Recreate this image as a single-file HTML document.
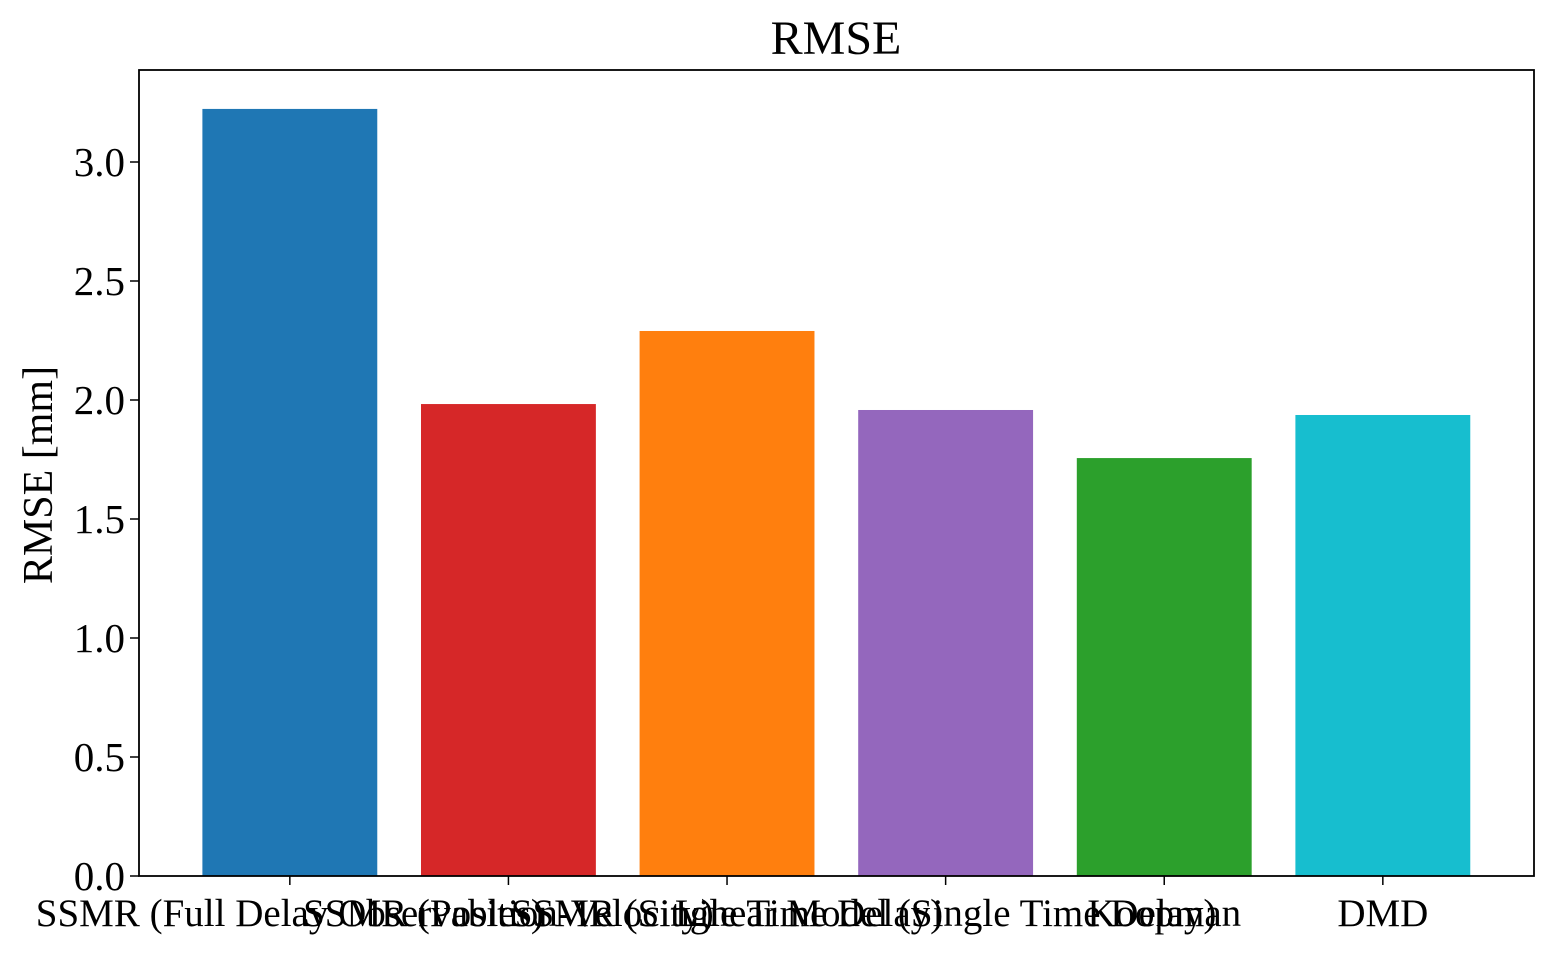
<!DOCTYPE html>
<html><head><meta charset="utf-8"><style>
body{margin:0;background:#fff}
text{font-family:"Liberation Serif","DejaVu Serif",serif;fill:#000}
</style></head><body>
<svg id="chart" width="1553" height="953" xmlns="http://www.w3.org/2000/svg">
<text x="836" y="54" font-size="48" text-anchor="middle">RMSE</text>
<text transform="translate(52,475) rotate(-90)" font-size="42" text-anchor="middle">RMSE [mm]</text>
<g id="bars"></g><g id="yticks"></g><g id="xticks"></g>
<rect x="139" y="70" width="1395" height="806" fill="none" stroke="#000" stroke-width="1.8"/>
</svg>
<script>
const categories=["SSMR (Full Delay Observables)","SSMR (Position-Velocity)","SSMR (Single Time Delay)","Linear Model (Single Time Delay)","Koopman","DMD"];
const values=[3.223,1.983,2.29,1.958,1.756,1.937];
const colors=["#1f77b4","#d62728","#ff7f0e","#9467bd","#2ca02c","#17becf"];
const yTicks=[0,0.5,1.0,1.5,2.0,2.5,3.0];
const yTickLabels=["0.0","0.5","1.0","1.5","2.0","2.5","3.0"];
const NS="http://www.w3.org/2000/svg";
const y=v=>876-v*238;
const x=i=>139+(i+0.69)*218.6;
const bw=0.8*218.6;
function mk(tag,attrs,parent){const e=document.createElementNS(NS,tag);for(const k in attrs)e.setAttribute(k,attrs[k]);document.getElementById(parent).appendChild(e);return e;}
values.forEach((v,i)=>{
 const r=mk("rect",{x:x(i)-bw/2,y:y(v),width:bw,height:y(0)-y(v),fill:colors[i]},"bars");
 
 
 const t=mk("line",{x1:x(i),x2:x(i),y1:876,y2:885,stroke:"#000","stroke-width":1.5},"xticks");
 
 
 const l=mk("text",{x:x(i),y:926,"font-size":39,"text-anchor":"middle"},"xticks");
 l.textContent=categories[i];
 
 
});
yTicks.forEach((v,i)=>{
 const t=mk("line",{x1:130,x2:139,y1:y(v),y2:y(v),stroke:"#000","stroke-width":1.5},"yticks");
 
 
 const l=mk("text",{x:125,y:y(v)+14,"font-size":41,"text-anchor":"end"},"yticks");
 l.textContent=yTickLabels[i];
 
 
});
</script>
</body></html>
